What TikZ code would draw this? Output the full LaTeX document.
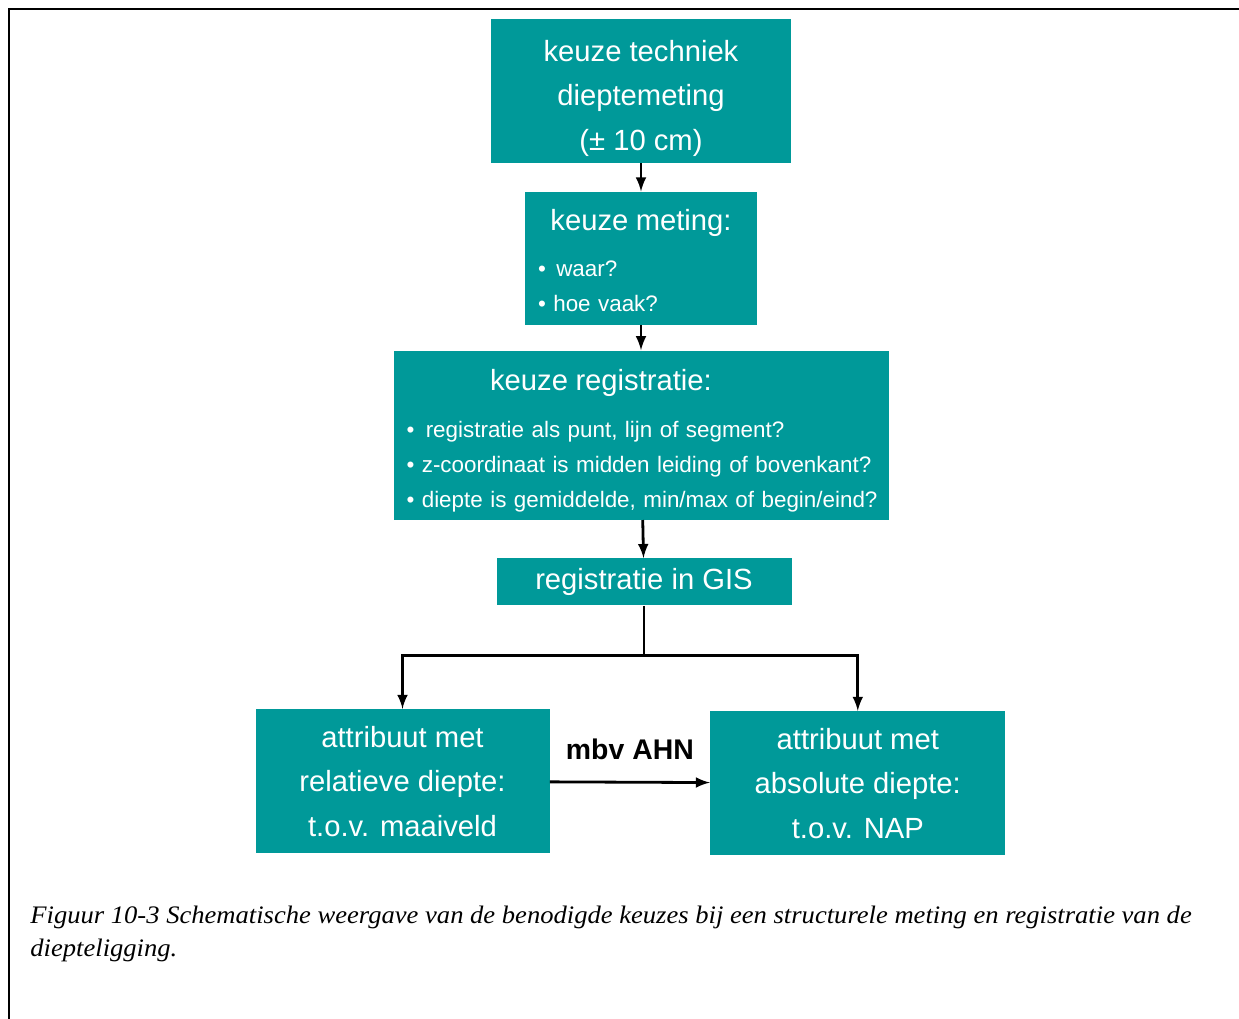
\documentclass[tikz,border=0pt]{standalone}
\usepackage{fontspec}
\setmainfont{Liberation Serif}
\setsansfont{Liberation Sans}
\newfontfamily\onderschriftFont[FakeStretch=1.055]{Liberation Serif}
\usepackage{tikz}
\usetikzlibrary{positioning}
\definecolor{keuzeGroen}{RGB}{0,153,153}

\begin{document}
\begin{tikzpicture}[>=latex, x=0.5pt, y=-0.5pt]
  \tikzstyle{keuzeBox} = [fill=keuzeGroen, text=white, rectangle, inner sep=0pt, align=center, font={\sffamily\fontsize{14.6}{22.3}\selectfont}]
  \tikzstyle{lijstBox} = [keuzeBox, inner xsep=6.5pt, align=left, font={\sffamily\fontsize{11.2}{17.5}\selectfont}]

  \tikzstyle{pijlPortion} = [black, line width=1.4pt];
  \tikzstyle{pijl} = [pijlPortion, ->];
  \tikzstyle{pijlLabel} = [pos=0.5, above=7pt, text=black, font={\sffamily\bfseries\fontsize{14.2}{17}\selectfont}];

  \useasboundingbox (0,0) rectangle (1239,1019);
  % kader
  \draw[line width=1.2pt] (9,1019) -- (9,9) -- (1239,9);

  \node[keuzeBox, minimum width=150pt, minimum height=72pt] (techniek) at (641,91)
    {\rule{0pt}{18pt}keuze techniek\\dieptemeting\\(± 10 cm)};
  \node[lijstBox, text width=103pt, minimum height=66.5pt] (meting) [below=14pt of techniek]
    {\rule{0pt}{12.5pt}\makebox[\linewidth]{\fontsize{14.6}{17.5}\selectfont keuze meting:}\\[5.5pt]
     \textbullet\ \hspace{1.5pt}waar?\\
     \textbullet\ hoe vaak?};
  \node[lijstBox, text width=234.5pt, minimum height=84.5pt] (registratie) [below=12.5pt of meting]
    {\rule{0pt}{16.5pt}\makebox[\linewidth]{\hspace*{-40pt}\fontsize{14.6}{17.5}\selectfont keuze registratie:}\\[6pt]
     \mbox{\textbullet\ \hspace{2pt}registratie als punt, lijn of segment?}\\
     \mbox{\textbullet\ z-coordinaat is midden leiding of bovenkant?}\\
     \mbox{\textbullet\ diepte is gemiddelde, min/max of begin/eind?}};
  \node[keuzeBox, minimum width=147.5pt, minimum height=23.5pt] (gis) [below=19pt of registratie, xshift=1.5pt] {registratie in GIS};
  \node[keuzeBox, minimum width=147pt, minimum height=72pt] (relatief) [below=51.5pt of gis, xshift=-120.75pt] {attribuut met\\relatieve diepte:\\t.o.v. maaiveld};
  \node[keuzeBox, minimum width=147.5pt, minimum height=72pt] (absoluut) [right=80pt of relatief, yshift=-1pt] {attribuut met\\absolute diepte:\\t.o.v. NAP};
  \coordinate[below=25pt of gis.south] (splitsing);

  \path (techniek) edge[pijl] (meting)
        (meting) edge[pijl] (registratie)
        (registratie) edge[pijl] (gis)
        (relatief) edge[pijl] node[pijlLabel] {mbv AHN} (absoluut);
  \draw[pijl] (gis.south) -- (splitsing) -| (relatief.north);
  \draw[pijl] (splitsing) -| (absoluut.north);

  \node[anchor=north west, align=left, inner sep=0pt, font={\onderschriftFont\itshape\fontsize{12.6}{16.5}\selectfont}] (onderschrift) at (30,906)
    {Figuur 10-3 Schematische weergave van de benodigde keuzes bij een structurele meting en registratie van de\\diepteligging.};
\end{tikzpicture}
\end{document}
